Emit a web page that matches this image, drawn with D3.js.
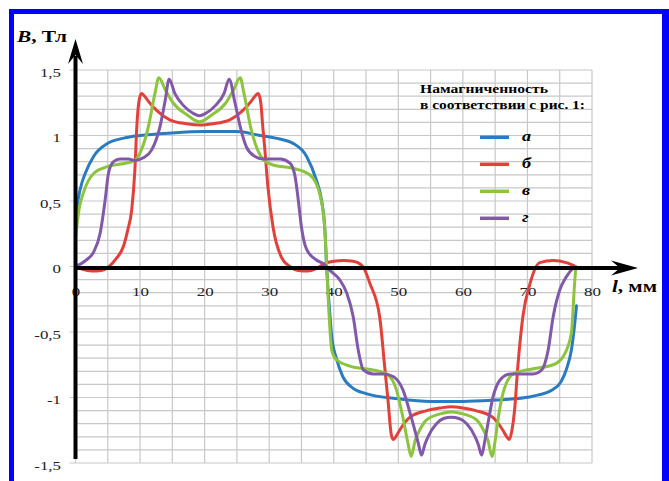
<!DOCTYPE html>
<html>
<head>
<meta charset="utf-8">
<script src="https://cdn.jsdelivr.net/npm/d3@7"></script>
<style>
  html, body { margin: 0; padding: 0; background: #fff; }
  svg { display: block; }
</style>
</head>
<body>
<svg id="chart" width="669" height="481"></svg>
<script>
// Flux density B (T) along the length l (mm) for four magnetisation patterns

const xTicks = [0, 10, 20, 30, 40, 50, 60, 70, 80];
const yTicks = [-1.5, -1, -0.5, 0, 0.5, 1, 1.5];
const seriesNames = ["а", "б", "в", "г"];
const seriesColors = ["#2a7bc0", "#e2403b", "#8cc43f", "#8159a8"];

// series "а"
const lA = [0, 0.4, 1, 1.5, 2.8, 5, 7.5, 10, 15, 20, 25, 28.6, 31, 33.7, 35.8, 37.3, 38.1, 38.6, 38.9, 39.3,
  39.7, 40.4, 41.4, 43, 45, 50, 55, 60, 65, 68, 70.8, 73.9, 75.2, 76, 76.8, 77.3, 77.6];
const bA = [0.35, 0.51, 0.64, 0.71, 0.84, 0.94, 0.98, 1.0, 1.02, 1.03, 1.03, 1.0, 0.98, 0.94, 0.84, 0.66, 0.51, 0.3, 0, -0.3,
  -0.54, -0.7, -0.84, -0.93, -0.97, -1.01, -1.03, -1.03, -1.02, -1.01, -0.99, -0.94, -0.88, -0.79, -0.64, -0.45, -0.3];

// series "б"
const lB = [0, 1, 2.5, 4, 5.2, 6.3, 7.4, 8.1, 8.7, 9.2, 9.5, 9.8, 10.2, 10.7, 11.3, 12.6, 14.6, 17.2, 19.3, 21.3,
  23.9, 25.9, 27.2, 27.8, 28.3, 28.7, 29.0, 29.3, 29.8, 30.6, 31.9, 33.2, 34.5, 36, 37.5, 38.5, 40, 41.5, 43, 44.5,
  45.6, 47.1, 47.9, 48.4, 48.9, 49.2, 49.6, 50.2, 51.8, 54.4, 56.5, 58.2, 60, 62, 64.6, 66.2, 66.8, 67.2, 67.6, 68.0,
  68.5, 69.3, 70.4, 71.9, 74, 76, 77.5];
const bB = [0, -0.02, -0.035, -0.03, 0, 0.06, 0.15, 0.28, 0.43, 0.74, 1.07, 1.25, 1.32, 1.3, 1.26, 1.19, 1.12, 1.09, 1.08, 1.09,
  1.12, 1.19, 1.26, 1.3, 1.32, 1.25, 1.07, 0.91, 0.61, 0.3, 0.07, 0, -0.03, -0.035, -0.01, 0.02, 0.04, 0.045, 0.04, 0,
  -0.13, -0.38, -0.77, -1.02, -1.28, -1.32, -1.3, -1.25, -1.15, -1.1, -1.08, -1.07, -1.08, -1.1, -1.15, -1.25, -1.3, -1.32, -1.25, -1.1,
  -0.77, -0.38, -0.13, 0.03, 0.045, 0.03, 0];

// series "в"
const lC = [0, 0.6, 1.2, 2.8, 4.8, 7.9, 9.2, 10.2, 11.3, 12.3, 12.9, 13.9, 15.1, 17.2, 19.2, 21.2, 23.3, 24.5, 25.5, 26.1,
  27.1, 28.2, 29.2, 30.6, 33.7, 36.3, 37.8, 38.6, 38.9, 39.2, 39.7, 40.4, 42.5, 46.1, 48.2, 49.7, 50.7, 51.5, 52.0, 52.6,
  53.3, 54.4, 56.9, 58.25, 59.6, 62.1, 63.2, 63.9, 64.5, 65.0, 65.5, 66.2, 67.8, 70.9, 74, 75.5, 76.8, 77.3, 77.5];
const bC = [0.22, 0.45, 0.56, 0.71, 0.76, 0.79, 0.81, 0.89, 1.07, 1.32, 1.44, 1.35, 1.25, 1.16, 1.105, 1.16, 1.25, 1.35, 1.44, 1.32,
  1.07, 0.89, 0.81, 0.775, 0.75, 0.7, 0.56, 0.3, 0, -0.3, -0.64, -0.71, -0.76, -0.79, -0.82, -0.94, -1.15, -1.35, -1.45, -1.33,
  -1.25, -1.17, -1.12, -1.11, -1.12, -1.17, -1.25, -1.33, -1.45, -1.33, -1.15, -0.97, -0.82, -0.78, -0.75, -0.69, -0.51, -0.13, 0];

// series "г"
const lD = [0, 1.7, 2.8, 3.8, 4.6, 5.1, 5.9, 6.9, 8.2, 9.2, 10.5, 11.8, 13.1, 13.9, 14.5, 15.4, 16.7, 18.2, 19.2, 20.2,
  21.7, 23.0, 23.8, 24.7, 25.5, 26.5, 27.8, 29.1, 31.7, 33.2, 34.0, 34.5, 35.0, 35.8, 37.3, 38.4, 39.4, 40.9, 42, 43,
  43.8, 44.6, 46.1, 47.7, 49.2, 50.7, 52, 53.1, 53.6, 54.1, 54.6, 55.9, 57, 58.2, 59.4, 60.6, 61.9, 62.4, 62.9, 63.4,
  63.7, 64.7, 65.7, 67.3, 70.9, 72.2, 73.2, 74, 75, 76, 77.3];
const bD = [0, 0.05, 0.11, 0.25, 0.51, 0.71, 0.8, 0.82, 0.82, 0.81, 0.83, 0.89, 1.07, 1.27, 1.43, 1.32, 1.23, 1.17, 1.15, 1.17,
  1.23, 1.32, 1.43, 1.25, 1.07, 0.91, 0.84, 0.82, 0.82, 0.79, 0.69, 0.51, 0.3, 0.13, 0.05, 0.02, -0.03, -0.1, -0.2, -0.38,
  -0.64, -0.79, -0.82, -0.82, -0.84, -0.94, -1.15, -1.35, -1.44, -1.36, -1.3, -1.2, -1.16, -1.15, -1.16, -1.2, -1.3, -1.36, -1.44, -1.33,
  -1.25, -0.99, -0.87, -0.82, -0.82, -0.79, -0.64, -0.38, -0.18, -0.08, 0];

const seriesL = [lA, lB, lC, lD];
const seriesB = [bA, bB, bC, bD];

const W = 669, H = 481;
const svg = d3.select("#chart");
const serif = "'Liberation Serif', 'Times New Roman', serif";
const stretch = 1.3;

// blue frame
svg.append("rect").attr("x", 9).attr("y", 9).attr("width", W - 9).attr("height", H).attr("fill", "#0000ff");
svg.append("rect").attr("x", 14).attr("y", 14).attr("width", 662 - 14).attr("height", H).attr("fill", "#ffffff");

const x = d3.scaleLinear().domain([0, 80]).range([75.5, 592]);
const y = d3.scaleLinear().domain([-1.5, 1.5]).range([463, 70]);

// grid
const grid = svg.append("g").attr("stroke", "#c8c8c8").attr("stroke-width", 1.2);
d3.range(0, 80.001, 5).forEach(v => {
  grid.append("line").attr("x1", x(v)).attr("x2", x(v)).attr("y1", y(-1.5)).attr("y2", y(1.5));
});
d3.range(-15, 16).forEach(i => {
  const v = i / 10;
  const major = i % 5 === 0;
  grid.append("line").attr("x1", major ? x(0) - 6 : x(0)).attr("x2", x(80)).attr("y1", y(v)).attr("y2", y(v));
});

// tick labels
const fmt = d => String(d).replace(".", ",");
const yAxis = d3.axisLeft(y).tickValues(yTicks).tickSize(0).tickFormat(fmt);
const yg = svg.append("g").attr("transform", `translate(${x(0)},0)`).call(yAxis);
yg.select(".domain").remove();
yg.selectAll("text")
  .attr("font-family", serif).attr("font-size", 13).attr("fill", "#222")
  .attr("text-anchor", "end").attr("dy", "0.42em")
  .attr("x", -14.5 / stretch)
  .attr("transform", `scale(${stretch},1)`);
yg.selectAll(".tick").each(function (d) {
  d3.select(this).attr("transform", `translate(0,${y(d) + 1.5})`);
});

const xAxis = d3.axisBottom(x).tickValues(xTicks).tickSize(0).tickFormat(fmt);
const xg = svg.append("g").attr("transform", `translate(0,${y(0)})`).call(xAxis);
xg.select(".domain").remove();
xg.selectAll("text")
  .attr("font-family", serif).attr("font-size", 13).attr("fill", "#222")
  .attr("text-anchor", "middle").attr("dy", 0).attr("y", 29.5)
  .attr("transform", `scale(${stretch},1)`);

// curves
const line = d3.line().x(d => x(d[0])).y(d => y(d[1])).curve(d3.curveMonotoneX);
seriesL.forEach((ls, i) => {
  const pts = ls.map((l, j) => [l, seriesB[i][j]]);
  svg.append("path").datum(pts)
    .attr("d", line)
    .attr("fill", "none")
    .attr("stroke", seriesColors[i])
    .attr("stroke-width", 3)
    .attr("stroke-linejoin", "round")
    .attr("stroke-linecap", "round");
});

// axes with arrows
const ax = svg.append("g");
const y0 = y(0) + 1.5, x0 = x(0);
ax.append("line").attr("x1", x0).attr("x2", 624).attr("y1", y0).attr("y2", y0)
  .attr("stroke", "#000").attr("stroke-width", 4);
ax.append("path")
  .attr("d", `M638,${y0} L611,${y0 - 7.5} L620,${y0} L611,${y0 + 7.5} Z`)
  .attr("fill", "#000");
ax.append("line").attr("x1", x0).attr("x2", x0).attr("y1", y(-1.5) - 4).attr("y2", 56)
  .attr("stroke", "#000").attr("stroke-width", 4);
ax.append("path")
  .attr("d", `M${x0},39 L${x0 - 7.5},64 L${x0},55 L${x0 + 7.5},64 Z`)
  .attr("fill", "#000");

// axis titles
const yTitle = svg.append("text").attr("x", 17).attr("y", 42)
  .attr("font-family", serif).attr("font-size", 16).attr("font-weight", "bold")
  .attr("textLength", 50).attr("lengthAdjust", "spacingAndGlyphs");
yTitle.append("tspan").attr("font-style", "italic").text("B");
yTitle.append("tspan").text(", Тл");

const xTitle = svg.append("text").attr("x", 612).attr("y", 292)
  .attr("font-family", serif).attr("font-size", 16).attr("font-weight", "bold")
  .attr("textLength", 45).attr("lengthAdjust", "spacingAndGlyphs");
xTitle.append("tspan").attr("font-style", "italic").text("l");
xTitle.append("tspan").text(", мм");

// legend
const lg = svg.append("g");
lg.append("text").attr("x", 420).attr("y", 93)
  .attr("font-family", serif).attr("font-size", 13).attr("font-weight", "bold")
  .attr("textLength", 128).attr("lengthAdjust", "spacingAndGlyphs")
  .text("Намагниченность");
lg.append("text").attr("x", 420).attr("y", 109)
  .attr("font-family", serif).attr("font-size", 13).attr("font-weight", "bold")
  .attr("textLength", 165).attr("lengthAdjust", "spacingAndGlyphs")
  .text("в соответствии с рис. 1:");
seriesNames.forEach((name, i) => {
  const ly = 137.3 + i * 27;
  lg.append("line").attr("x1", 480).attr("x2", 509).attr("y1", ly).attr("y2", ly)
    .attr("stroke", seriesColors[i]).attr("stroke-width", 3.5);
  lg.append("text").attr("x", 522 / stretch).attr("y", ly + 4)
    .attr("transform", `scale(${stretch},1)`)
    .attr("font-family", serif).attr("font-size", 14)
    .attr("font-weight", "bold").attr("font-style", "italic")
    .text(name);
});
</script>
</body>
</html>
